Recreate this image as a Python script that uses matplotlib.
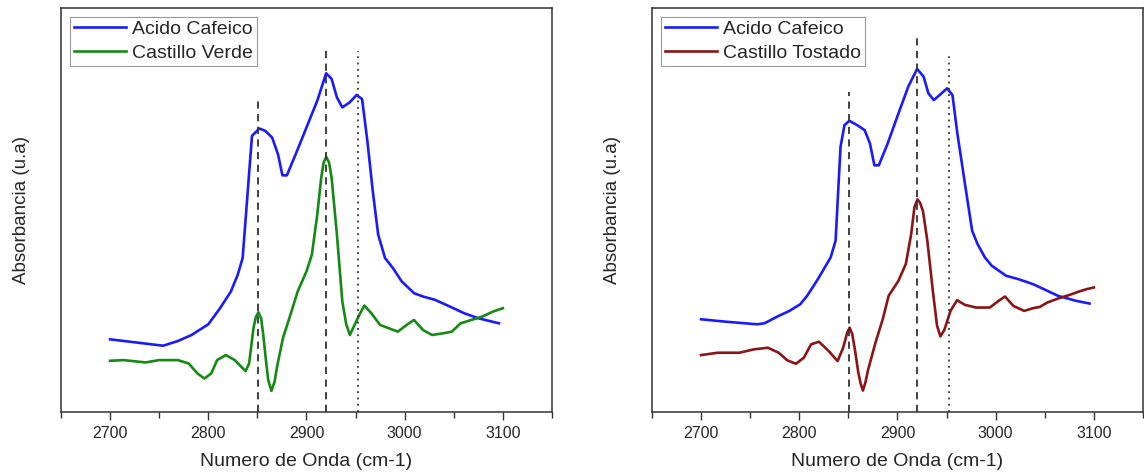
import numpy as np
import matplotlib
matplotlib.use("Agg")
import matplotlib.pyplot as plt

plt.rcParams['font.family'] = ['Liberation Sans', 'DejaVu Sans']

# Acido Cafeico (left panel)
caf_l_x = [2700, 2754, 2769, 2783, 2800, 2812, 2823, 2830, 2835, 2844.5, 2852, 2858, 2865,
           2871, 2875.5, 2880, 2889, 2900, 2911, 2920, 2925.6, 2931, 2936.5, 2944, 2951,
           2956.6, 2962, 2967.5, 2973, 2977, 2980, 2988, 2997, 3009.5, 3018.6, 3031, 3046,
           3060.6, 3075, 3096]
caf_l_y = [0.217, 0.198, 0.212, 0.230, 0.262, 0.310, 0.360, 0.410, 0.460, 0.825, 0.847, 0.840,
           0.820, 0.770, 0.707, 0.707, 0.770, 0.850, 0.930, 1.012, 0.995, 0.940, 0.910, 0.925,
           0.947, 0.935, 0.810, 0.660, 0.530, 0.490, 0.460, 0.430, 0.390, 0.355, 0.345, 0.335,
           0.315, 0.295, 0.280, 0.265]

# Castillo Verde
verde_x = [2700, 2714, 2736, 2750, 2769, 2780, 2789, 2796, 2803, 2809, 2818, 2827, 2838,
           2841.6, 2846, 2848.3, 2851, 2853.8, 2856, 2858.5, 2861, 2864.3, 2867.5, 2870, 2876,
           2883.6, 2891, 2900, 2905.5, 2911, 2915, 2917.5, 2920.2, 2923, 2925.6, 2931, 2936.5,
           2940.5, 2944.2, 2948, 2955, 2959, 2966, 2975, 2984, 2993, 3002, 3009.5, 3018.6, 3028,
           3039, 3048, 3057, 3068, 3079, 3090, 3100]
verde_y = [0.153, 0.155, 0.148, 0.155, 0.155, 0.145, 0.115, 0.100, 0.115, 0.155, 0.170, 0.155,
           0.122, 0.145, 0.250, 0.282, 0.298, 0.280, 0.230, 0.160, 0.096, 0.063, 0.090, 0.135,
           0.220, 0.290, 0.360, 0.420, 0.470, 0.590, 0.700, 0.745, 0.762, 0.745, 0.700, 0.530,
           0.330, 0.262, 0.230, 0.254, 0.297, 0.318, 0.295, 0.260, 0.250, 0.240, 0.260, 0.275,
           0.245, 0.230, 0.235, 0.240, 0.265, 0.275, 0.285, 0.300, 0.310]

# Acido Cafeico (right panel)
caf_r_x = [2700, 2724, 2757, 2764.5, 2779, 2790, 2801, 2808, 2819, 2832, 2837, 2842, 2846,
           2851, 2859, 2866.6, 2872, 2876.5, 2881, 2890, 2901, 2911, 2920, 2926.6, 2931.5,
           2937, 2943, 2950.5, 2956, 2961, 2968.7, 2976, 2981.5, 2989, 2996, 3010.6, 3023,
           3038, 3049, 3063.5, 3082, 3095.6]
caf_r_y = [0.277, 0.270, 0.262, 0.265, 0.287, 0.302, 0.322, 0.347, 0.397, 0.462, 0.512, 0.792,
           0.857, 0.870, 0.857, 0.842, 0.802, 0.737, 0.737, 0.802, 0.892, 0.972, 1.025, 1.002,
           0.952, 0.932, 0.947, 0.967, 0.947, 0.832, 0.682, 0.542, 0.502, 0.462, 0.437, 0.407,
           0.397, 0.382, 0.367, 0.347, 0.332, 0.324]

# Castillo Tostado
tost_x = [2700, 2717, 2739, 2753.6, 2768, 2779, 2788, 2796.6, 2804.6, 2812, 2820, 2830, 2839,
          2844.7, 2848.9, 2851.3, 2854, 2857, 2860, 2862.4, 2864.8, 2867.5, 2870, 2877.6, 2885,
          2891, 2901, 2908.5, 2914, 2917.3, 2920.4, 2923, 2926, 2930.4, 2936, 2940.3, 2943.7,
          2947.7, 2954, 2960.7, 2968.7, 2980, 2994, 3003, 3009.5, 3018, 3029, 3038, 3045,
          3052.6, 3063.5, 3074.5, 3085, 3092.7, 3100]
tost_y = [0.170, 0.177, 0.177, 0.187, 0.192, 0.177, 0.154, 0.144, 0.162, 0.202, 0.210, 0.182,
          0.152, 0.192, 0.238, 0.252, 0.232, 0.180, 0.120, 0.086, 0.064, 0.090, 0.125, 0.207,
          0.277, 0.347, 0.392, 0.442, 0.532, 0.612, 0.635, 0.625, 0.600, 0.512, 0.362, 0.258,
          0.226, 0.245, 0.302, 0.334, 0.320, 0.312, 0.312, 0.332, 0.345, 0.317, 0.302, 0.310,
          0.314, 0.327, 0.339, 0.349, 0.360, 0.367, 0.372]

# reference band positions and the height where each marker line starts
bands = [2851, 2920, 2952]
band_styles = [(0, (4, 3)), (0, (4, 3)), (0, (1, 2.5))]
band_top_left = [0.945, 1.090, 1.080]
band_top_right = [0.957, 1.117, 1.072]

text_color = '#262626'

fig = plt.figure(figsize=(11.44, 4.76), dpi=100)
ax1 = fig.add_axes([0.0533, 0.1345, 0.4292, 0.8487])
ax2 = fig.add_axes([0.5699, 0.1345, 0.4292, 0.8487])

panels = [
    (ax1, caf_l_x, caf_l_y, verde_x, verde_y, 'Castillo Verde', '#138a13', band_top_left),
    (ax2, caf_r_x, caf_r_y, tost_x, tost_y, 'Castillo Tostado', '#8b1414', band_top_right),
]

for ax, cx, cy, sx, sy, name, col, tops in panels:
    ax.plot(cx, cy, color='#1a1aff', lw=1.9, label='Acido Cafeico',
            solid_joinstyle='round')
    ax.plot(sx, sy, color=col, lw=1.9, label=name, solid_joinstyle='round')
    for b, ls, top in zip(bands, band_styles, tops):
        ax.plot([b, b], [0, top], color='#333333', lw=1.3, linestyle=ls)

    ax.set_xlim(2650, 3150)
    ax.set_ylim(0, 1.207)
    ax.set_xticks([2700, 2800, 2900, 3000, 3100])
    ax.set_xticks(np.arange(2650, 3151, 50), minor=True)
    ax.set_yticks([])
    ax.tick_params(axis='x', which='major', direction='out', length=6, width=1,
                   labelsize=11.5, colors='#333333', labelcolor=text_color, pad=4)
    ax.tick_params(axis='x', which='minor', direction='out', length=4, width=1,
                   colors='#333333')
    for sp in ax.spines.values():
        sp.set_color('#333333')
        sp.set_linewidth(1.1)

    ax.set_xlabel('Numero de Onda (cm-1)', fontsize=14, color=text_color, labelpad=9)
    ax.set_ylabel('Absorbancia (u.a)', fontsize=13.5, color=text_color, labelpad=22)

    leg = ax.legend(loc='upper left', fontsize=14, fancybox=False, framealpha=1,
                    edgecolor='#999999', handlelength=2.7, handletextpad=0.3,
                    labelspacing=0.32, borderpad=0.2, borderaxespad=0.45)
    for t in leg.get_texts():
        t.set_color(text_color)
    leg.get_frame().set_linewidth(0.8)

fig.savefig('out.png', dpi=100)
